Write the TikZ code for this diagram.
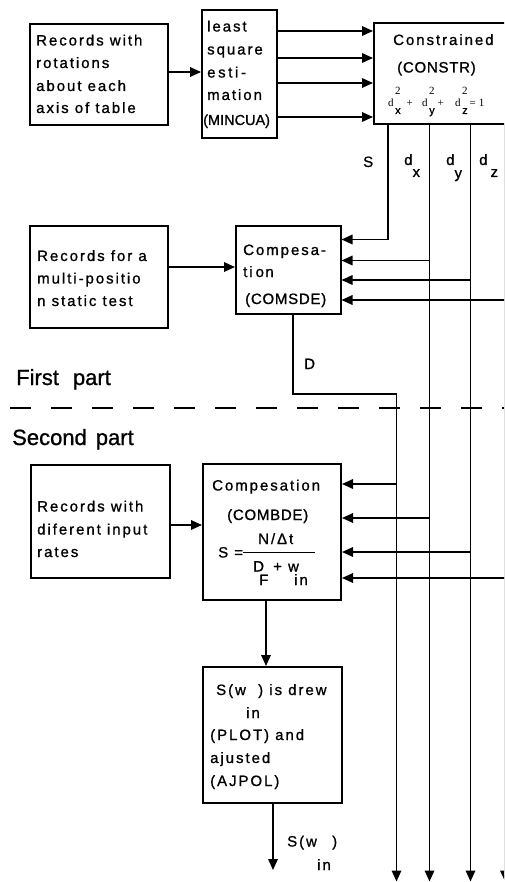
\documentclass[tikz,border=0pt]{standalone}
\usepackage{fontspec}
\setmainfont[LetterSpace=13,FakeBold=1]{Liberation Sans}
\newfontfamily\plainsf[FakeBold=1]{Liberation Sans}
\newfontfamily\capsf[LetterSpace=5,FakeBold=1]{Liberation Sans}
\newfontfamily\fserif{Liberation Serif}
\usetikzlibrary{arrows.meta}
\newcommand\dterm[1]{d\kern1.5pt\rlap{\raisebox{12pt}{2}}\raisebox{-7pt}{{\plainsf #1}}}
\begin{document}
\begin{tikzpicture}[x=1pt,y=-1pt,
  box/.style={draw,line width=2pt,inner sep=0pt,rectangle},
  txt/.style={inner sep=0pt,anchor=base west,font=\fontsize{15}{18}\selectfont},
  caps/.style={txt,font=\fontsize{15}{18}\capsf},
  big/.style={inner sep=0pt,anchor=base west,font=\fontsize{22}{26}\plainsf},
  formula/.style={inner sep=0pt,anchor=base west,font=\fontsize{11}{13}\fserif},
  conn/.style={line width=1.7pt},
  arr/.style={conn,-{Triangle[length=11pt,width=9.5pt]}},
  dashline/.style={line width=1.6pt,dash pattern=on 21pt off 20pt},
]
\useasboundingbox (0,0) rectangle (504,882);
\clip (0,0) rectangle (504,882);
\fill[white] (0,0) rectangle (504,882);

% boxes
\node[box,minimum width=138pt,minimum height=101pt] (rec1) at (99,74.5) {};
\node[box,minimum width=75pt,minimum height=128pt] (lsq) at (239.5,74) {};
\node[box,minimum width=166pt,minimum height=101pt] (constr) at (457,73.5) {};
\node[box,minimum width=138pt,minimum height=102pt] (rec2) at (99,277) {};
\node[box,minimum width=104.5pt,minimum height=88pt] (comsde) at (288.25,270) {};
\node[box,minimum width=139pt,minimum height=113pt] (rec3) at (100.5,521.5) {};
\node[box,minimum width=138pt,minimum height=136pt] (combde) at (272,532) {};
\node[box,minimum width=139pt,minimum height=136pt] (plot) at (272.5,735) {};

% texts: rec1
\node[txt] (r1a) at (36,45.5) {Records with};
\node[txt] (r1b) at (36,68) {rotations};
\node[txt] (r1c) at (36,91) {about each};
\node[txt] (r1d) at (36,113) {axis of table};
% lsq
\node[txt] (lqa) at (207,31.5) {least};
\node[txt] (lqb) at (207,54.5) {square};
\node[txt] (lqc) at (207,77.5) {e\kern2.6pt s\kern2.6pt t\kern2.6pt i\kern2.6pt -};
\node[txt] (lqd) at (207,100) {mation};
\node[txt,font=\fontsize{14.5}{17}\plainsf] (lqe) at (203,125) {(MINCUA)};
% constr
\node[txt] (csa) at (393,45) {Constrained};
\node[caps] (csb) at (397,72.5) {(CONSTR)};
\node[formula] (f1) at (388,107) {\dterm{x}};
\node[formula] (fp1) at (406.5,107) {+};
\node[formula] (f2) at (422,107) {\dterm{y}};
\node[formula] (fp2) at (437.5,107) {+};
\node[formula] (f3) at (455,107) {\dterm{z}};
\node[formula] (feq) at (469.5,107) {=\kern3pt 1};
% rec2
\node[txt] (r2a) at (37,261) {Records for a};
\node[txt] (r2b) at (37,283.5) {multi-positio};
\node[txt] (r2c) at (37,306) {n static test};
% comsde
\node[txt] (cma) at (243,255) {Compesa-};
\node[txt] (cmb) at (243,277) {ti\kern3pt o\kern1.4pt n};
\node[caps] (cmc) at (245,304) {(COMSDE)};
% parts
\node[big] (first) at (16,385) {First\hspace{14pt}part};
\node[big] (second) at (12,445) {Second\hspace{9pt}part};
% rec3
\node[txt] (r3a) at (37,511.5) {Records with};
\node[txt] (r3b) at (37,534.5) {diferent input};
\node[txt] (r3c) at (37,557) {rates};
% combde
\node[txt] (cba) at (212,490.5) {Compesation};
\node[caps] (cbb) at (227,520) {(COMBDE)};
\node[txt] (cbS) at (218,557.5) {S =};
\node[txt] (cbN) at (258,544) {N/Δt};
\node[txt] (cbD) at (253,571.5) {D};
\node[txt] (cbF) at (259,585) {F};
\node[txt] (cbw) at (273,571.5) {+ w};
\node[txt] (cbin) at (294,585) {in};
\draw[line width=1.5pt] (243,552.7) -- (315,552.7);
% plot
\node[txt] (pla) at (216,695) {S(w};
\node[txt] (plb) at (258,695) {) is drew};
\node[txt] (plin) at (246,718) {in};
\node[txt] (plc) at (210,740) {(PLOT) and};
\node[txt] (pld) at (210,763) {ajusted};
\node[txt] (ple) at (210,786) {(AJPOL)};
% output label
\node[txt] (oa) at (287,846.5) {S(w};
\node[txt] (ob) at (332,846.5) {)};
\node[txt] (oin) at (317,870) {in};
% line labels
\node[txt] (labS) at (363,167) {S};
\node[txt] (labdx) at (404,165) {d\raisebox{-12pt}{x}};
\node[txt] (labdy) at (446,165) {d\raisebox{-13pt}{y}};
\node[txt] (labdz) at (479,165) {d\raisebox{-12pt}{\kern3pt z}};
\node[txt] (labD) at (304,369) {D};

% helper coordinates
\coordinate (y72) at (0,72);
\coordinate (xS) at (388,0);
\coordinate (xdx) at (429.5,0);
\coordinate (xdy) at (470.5,0);
\coordinate (xdz) at (505,0);
\coordinate (xD) at (396.5,0);
\coordinate (xDs) at (293,0);
\coordinate (ybot) at (0,881.5);
\coordinate (yS) at (0,239.5);
\coordinate (ya) at (0,260.5);
\coordinate (yb) at (0,280);
\coordinate (yc) at (0,300);
\coordinate (yD) at (0,394);
\coordinate (yr2) at (0,267);
\coordinate (yr3) at (0,525);
\coordinate (ka) at (0,484);
\coordinate (kb) at (0,518);
\coordinate (kc) at (0,552);
\coordinate (kd) at (0,578);
\coordinate (xc) at (266,0);
\coordinate (out) at (273,870);

% dashed separator
\coordinate (dl) at (10,408);
\coordinate (dr) at (504,408);
\draw[dashline] (dl) -- (dr);

% connectors
\draw[arr] (rec1.east |- y72) -- (lsq.west |- y72);
\foreach \yy [count=\i] in {31,58,83,117} {
  \coordinate (l\i) at (0,\yy);
  \draw[arr] (lsq.east |- l\i) -- (constr.west |- l\i);
}
\draw[arr] (constr.south -| xS) |- (comsde.east |- yS);
\draw[arr] (constr.south -| xdx) -- (xdx |- ybot);
\draw[arr] (constr.south -| xdy) -- (xdy |- ybot);
\draw[arr] (constr.south -| xdz) -- (xdz |- ybot);
\draw[arr] (xdx |- ya) -- (comsde.east |- ya);
\draw[arr] (xdy |- yb) -- (comsde.east |- yb);
\draw[arr] (xdz |- yc) -- (comsde.east |- yc);
\draw[arr] (rec2.east |- yr2) -- (comsde.west |- yr2);
\draw[arr] (comsde.south -| xDs) |- (xD |- yD) -- (xD |- ybot);
\draw[arr] (rec3.east |- yr3) -- (combde.west |- yr3);
\draw[arr] (xD |- ka) -- (combde.east |- ka);
\draw[arr] (xdx |- kb) -- (combde.east |- kb);
\draw[arr] (xdy |- kc) -- (combde.east |- kc);
\draw[arr] (xdz |- kd) -- (combde.east |- kd);
\draw[arr] (combde.south -| xc) -- (plot.north -| xc);
\draw[arr] (plot.south -| out) -- (out);
\end{tikzpicture}
\end{document}
